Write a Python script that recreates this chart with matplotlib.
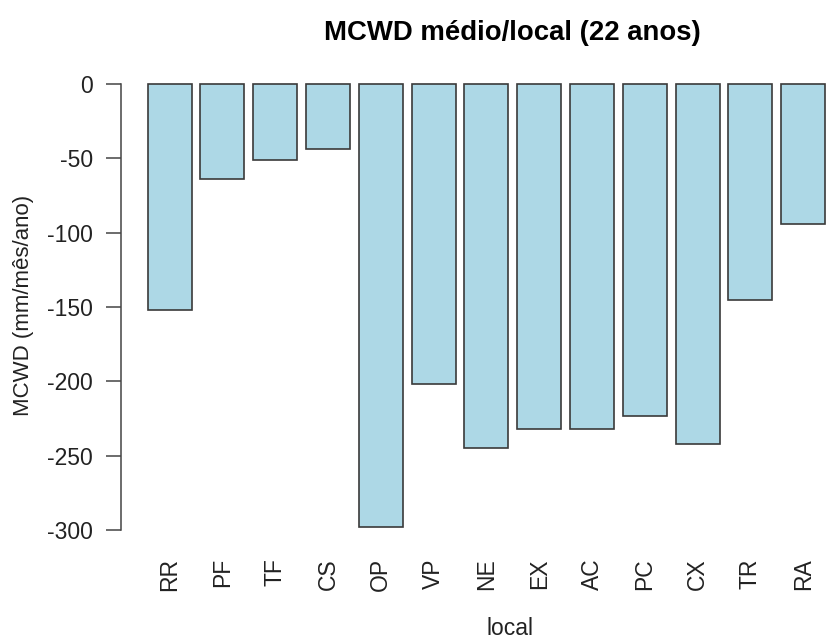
import matplotlib.pyplot as plt
import numpy as np

plt.rcParams['font.family'] = ['Liberation Sans', 'DejaVu Sans']

# MCWD médio por local (mm/mês/ano)
locais = ['RR', 'PF', 'TF', 'CS', 'OP', 'VP', 'NE', 'EX', 'AC', 'PC', 'CX', 'TR', 'RA']
mcwd = [-152, -64, -51, -44, -297.7, -201.5, -245, -232, -232, -223, -242, -145, -94]
yticks = [0, -50, -100, -150, -200, -250, -300]

fig = plt.figure(figsize=(8.26, 6.42), dpi=100)
# plot region like R's barplot (the right side is cut by the image edge)
ax = fig.add_axes([120.5 / 826, 0.1522, 783 / 826, 0.7445])

# R barplot layout: width 1, space 0.2
x = 0.2 + np.arange(len(locais)) * 1.2
ax.bar(x, mcwd, width=1.0, align='edge', color='#ADD8E6',
       edgecolor='#3a3a3a', linewidth=1.2)

ax.set_xlim(-0.416, 17.38)
ax.set_ylim(-309.6, 11.9)

for s in ['top', 'right', 'bottom']:
    ax.spines[s].set_visible(False)
ax.spines['left'].set_bounds(-300, 0)
ax.spines['left'].set_color('#444444')
ax.spines['left'].set_linewidth(1.1)

ax.set_yticks(yticks)
ax.set_yticklabels([str(v) for v in yticks])
ax.tick_params(axis='y', length=10.8, width=1.1, pad=9, labelsize=16.5,
               color='#444444', labelcolor='#222222')

ax.set_xticks(x + 0.5)
ax.set_xticklabels(locais, rotation=90)
ax.tick_params(axis='x', length=0, pad=10, labelsize=16.5, labelcolor='#222222')

ax.set_ylabel('MCWD (mm/mês/ano)', fontsize=16, color='#222222', va='center')
ax.yaxis.set_label_coords(-0.1245, 0.5)
ax.set_xlabel('local', fontsize=16.5, color='#222222', va='center')
ax.xaxis.set_label_coords(0.497, -0.176)

ax.set_title('MCWD médio/local (22 anos)', fontsize=19.8, fontweight='bold',
             y=1.07, va='center', pad=0)

fig.savefig('out.png', dpi=100)
